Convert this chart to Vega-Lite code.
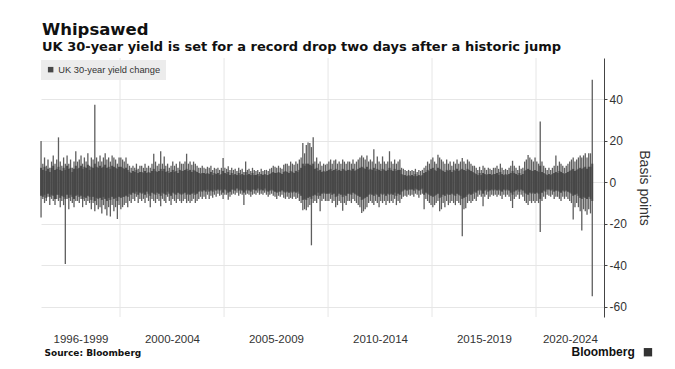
{
  "$schema": "https://vega.github.io/schema/vega-lite/v6.json",
  "width": 563,
  "height": 259,
  "autosize": {"type": "none"},
  "padding": {"left": 41, "top": 58, "right": 71, "bottom": 52},
  "background": "white",
  "title": {
    "text": "Whipsawed",
    "subtitle": "UK 30-year yield is set for a record drop two days after a historic jump",
    "anchor": "start",
    "frame": "group",
    "offset": 4,
    "dx": 1,
    "font": "DejaVu Sans",
    "fontSize": 16.5,
    "fontWeight": "bold",
    "color": "#111111",
    "subtitleFont": "DejaVu Sans",
    "subtitleFontSize": 13,
    "subtitleFontWeight": "bold",
    "subtitleColor": "#111111",
    "subtitlePadding": 2
  },
  "config": {"view": {"stroke": null}},
  "datasets": {
    "grid": [{"g": "2000-01-01"}, {"g": "2005-01-01"}, {"g": "2010-01-01"}, {"g": "2015-01-01"}, {"g": "2020-01-01"}],
    "d": [
      {"m":"1996-03-15","h":20,"l":-17,"a":7,"b":-6.5},{"m":"1996-04-15","h":9,"l":-8,"a":6,"b":-7},{"m":"1996-05-15","h":12,"l":-10,"a":7.5,"b":-6},{"m":"1996-06-15","h":8,"l":-9,"a":5.5,"b":-7.5},{"m":"1996-07-15","h":11,"l":-7,"a":6.5,"b":-5.5},{"m":"1996-08-15","h":7,"l":-11,"a":5,"b":-7},{"m":"1996-09-15","h":10,"l":-8,"a":7,"b":-6},{"m":"1996-10-15","h":13,"l":-9,"a":8,"b":-6.5},{"m":"1996-11-15","h":9,"l":-11,"a":6,"b":-8},{"m":"1996-12-15","h":11,"l":-8,"a":6.5,"b":-6},
      {"m":"1997-01-15","h":21.7,"l":-9,"a":7.5,"b":-6},{"m":"1997-02-15","h":10,"l":-12,"a":6,"b":-7.5},{"m":"1997-03-15","h":8,"l":-9,"a":5.5,"b":-6.5},{"m":"1997-04-15","h":12,"l":-11,"a":7,"b":-7},{"m":"1997-05-15","h":9,"l":-39.4,"a":6,"b":-8},{"m":"1997-06-15","h":13,"l":-8,"a":8,"b":-6},{"m":"1997-07-15","h":9,"l":-13,"a":6.5,"b":-7.5},{"m":"1997-08-15","h":11,"l":-9,"a":7,"b":-6},{"m":"1997-09-15","h":7,"l":-10,"a":5,"b":-7},{"m":"1997-10-15","h":10,"l":-12,"a":6.5,"b":-8},{"m":"1997-11-15","h":15,"l":-9,"a":8,"b":-6.5},{"m":"1997-12-15","h":10,"l":-9,"a":6.5,"b":-6},
      {"m":"1998-01-15","h":11,"l":-10,"a":7,"b":-7},{"m":"1998-02-15","h":13,"l":-8,"a":8,"b":-6.5},{"m":"1998-03-15","h":9,"l":-12,"a":6.5,"b":-8},{"m":"1998-04-15","h":12,"l":-9,"a":7.5,"b":-7},{"m":"1998-05-15","h":10,"l":-11,"a":7,"b":-7.5},{"m":"1998-06-15","h":14,"l":-9,"a":8.5,"b":-6.5},{"m":"1998-07-15","h":8,"l":-10,"a":6,"b":-7},{"m":"1998-08-15","h":12,"l":-13,"a":7.5,"b":-8.5},{"m":"1998-09-15","h":11,"l":-10,"a":7,"b":-7},{"m":"1998-10-15","h":37.4,"l":-14,"a":9,"b":-9},{"m":"1998-11-15","h":12,"l":-11,"a":7.5,"b":-7.5},{"m":"1998-12-15","h":10,"l":-13,"a":7,"b":-8},
      {"m":"1999-01-15","h":13,"l":-12,"a":8,"b":-7.5},{"m":"1999-02-15","h":10,"l":-15,"a":7,"b":-8.5},{"m":"1999-03-15","h":12,"l":-11,"a":7.5,"b":-7},{"m":"1999-04-15","h":14,"l":-13,"a":8.5,"b":-8},{"m":"1999-05-15","h":11,"l":-16,"a":7,"b":-9},{"m":"1999-06-15","h":12,"l":-12,"a":7.5,"b":-7.5},{"m":"1999-07-15","h":10,"l":-16.5,"a":6.5,"b":-8.5},{"m":"1999-08-15","h":13,"l":-11,"a":8,"b":-7},{"m":"1999-09-15","h":12,"l":-14,"a":7.5,"b":-8},{"m":"1999-10-15","h":11,"l":-12,"a":7,"b":-7.5},{"m":"1999-11-15","h":9,"l":-17.7,"a":6.5,"b":-9},{"m":"1999-12-15","h":12,"l":-11,"a":7.5,"b":-7},
      {"m":"2000-01-15","h":12,"l":-13,"a":7.5,"b":-7.5},{"m":"2000-02-15","h":11,"l":-12,"a":7,"b":-7},{"m":"2000-03-15","h":10,"l":-11,"a":6.5,"b":-7},{"m":"2000-04-15","h":12,"l":-10,"a":7,"b":-6.5},{"m":"2000-05-15","h":9,"l":-12,"a":6,"b":-7},{"m":"2000-06-15","h":8,"l":-9,"a":5,"b":-5.5},{"m":"2000-07-15","h":7,"l":-10,"a":4.5,"b":-6},{"m":"2000-08-15","h":8,"l":-8,"a":5.5,"b":-5},{"m":"2000-09-15","h":7,"l":-9,"a":5,"b":-5.5},{"m":"2000-10-15","h":9,"l":-7,"a":6,"b":-4.5},{"m":"2000-11-15","h":6.5,"l":-10,"a":4.5,"b":-6},{"m":"2000-12-15","h":8,"l":-8,"a":5,"b":-5},
      {"m":"2001-01-15","h":8,"l":-9,"a":5,"b":-5.5},{"m":"2001-02-15","h":7,"l":-8,"a":4.5,"b":-5},{"m":"2001-03-15","h":9,"l":-10,"a":5.5,"b":-6},{"m":"2001-04-15","h":7,"l":-7.5,"a":4.5,"b":-4.5},{"m":"2001-05-15","h":8,"l":-9,"a":5,"b":-5.5},{"m":"2001-06-15","h":7,"l":-12,"a":4.5,"b":-6.5},{"m":"2001-07-15","h":9,"l":-8,"a":5.5,"b":-5},{"m":"2001-08-15","h":13.8,"l":-9,"a":6.5,"b":-5.5},{"m":"2001-09-15","h":10,"l":-10,"a":5.5,"b":-6},{"m":"2001-10-15","h":8,"l":-8,"a":5,"b":-5},{"m":"2001-11-15","h":9,"l":-9,"a":5.5,"b":-5.5},{"m":"2001-12-15","h":15,"l":-11.5,"a":6.5,"b":-6.5},
      {"m":"2002-01-15","h":9,"l":-8,"a":5.5,"b":-5},{"m":"2002-02-15","h":12.5,"l":-9,"a":6.5,"b":-5.5},{"m":"2002-03-15","h":8,"l":-10,"a":5,"b":-6},{"m":"2002-04-15","h":9,"l":-7,"a":5.5,"b":-4.5},{"m":"2002-05-15","h":7,"l":-9,"a":4.5,"b":-5.5},{"m":"2002-06-15","h":8,"l":-11,"a":5,"b":-6.5},{"m":"2002-07-15","h":10,"l":-8,"a":6,"b":-5},{"m":"2002-08-15","h":8,"l":-9,"a":5,"b":-5.5},{"m":"2002-09-15","h":9,"l":-10,"a":5.5,"b":-6},{"m":"2002-10-15","h":7,"l":-8,"a":4.5,"b":-5},{"m":"2002-11-15","h":10,"l":-9,"a":6,"b":-5.5},{"m":"2002-12-15","h":9,"l":-10,"a":5.5,"b":-6},
      {"m":"2003-01-15","h":9,"l":-9,"a":5.5,"b":-5.5},{"m":"2003-02-15","h":10,"l":-8,"a":6,"b":-5},{"m":"2003-03-15","h":13.8,"l":-10,"a":6.5,"b":-6},{"m":"2003-04-15","h":9,"l":-9,"a":5.5,"b":-5.5},{"m":"2003-05-15","h":10,"l":-10,"a":6,"b":-6},{"m":"2003-06-15","h":8.5,"l":-9,"a":5,"b":-5.5},{"m":"2003-07-15","h":10,"l":-8,"a":6,"b":-5},{"m":"2003-08-15","h":9,"l":-10,"a":5.5,"b":-6},{"m":"2003-09-15","h":8,"l":-9,"a":5,"b":-5.5},{"m":"2003-10-15","h":7,"l":-8,"a":4.5,"b":-4.5},{"m":"2003-11-15","h":7,"l":-7,"a":4,"b":-4},{"m":"2003-12-15","h":8,"l":-8,"a":4.5,"b":-4.5},
      {"m":"2004-01-15","h":7,"l":-7,"a":4.5,"b":-4},{"m":"2004-02-15","h":6.5,"l":-8,"a":4,"b":-4.5},{"m":"2004-03-15","h":7.5,"l":-6,"a":4.5,"b":-3.5},{"m":"2004-04-15","h":7,"l":-8,"a":4,"b":-4.5},{"m":"2004-05-15","h":8,"l":-6.5,"a":5,"b":-4},{"m":"2004-06-15","h":6,"l":-7.5,"a":3.5,"b":-4.5},{"m":"2004-07-15","h":7,"l":-6,"a":4.5,"b":-3.5},{"m":"2004-08-15","h":6.5,"l":-7,"a":4,"b":-4},{"m":"2004-09-15","h":7,"l":-5.5,"a":4.5,"b":-3.5},{"m":"2004-10-15","h":6,"l":-6.5,"a":3.5,"b":-4},{"m":"2004-11-15","h":7,"l":-6,"a":4,"b":-3.5},{"m":"2004-12-15","h":11.7,"l":-8,"a":5.5,"b":-5},
      {"m":"2005-01-15","h":7,"l":-6,"a":4.5,"b":-3.5},{"m":"2005-02-15","h":6.5,"l":-6,"a":4,"b":-4},{"m":"2005-03-15","h":7.7,"l":-8.4,"a":5,"b":-5},{"m":"2005-04-15","h":6,"l":-7,"a":3.5,"b":-4.5},{"m":"2005-05-15","h":7,"l":-6,"a":4.5,"b":-3.5},{"m":"2005-06-15","h":6,"l":-5.5,"a":3.5,"b":-3.5},{"m":"2005-07-15","h":6.5,"l":-6,"a":4,"b":-4},{"m":"2005-08-15","h":5.5,"l":-5,"a":3.5,"b":-3},{"m":"2005-09-15","h":7,"l":-6.5,"a":4.5,"b":-4},{"m":"2005-10-15","h":6,"l":-5.5,"a":3.5,"b":-3.5},{"m":"2005-11-15","h":6.5,"l":-6,"a":4,"b":-4},{"m":"2005-12-15","h":5,"l":-11,"a":3.5,"b":-5},
      {"m":"2006-01-15","h":10,"l":-6,"a":5,"b":-4},{"m":"2006-02-15","h":6,"l":-5.5,"a":3.5,"b":-3.5},{"m":"2006-03-15","h":6.5,"l":-6,"a":4,"b":-4},{"m":"2006-04-15","h":5.5,"l":-7,"a":3.5,"b":-4.5},{"m":"2006-05-15","h":7,"l":-6,"a":4.5,"b":-3.5},{"m":"2006-06-15","h":6,"l":-5.5,"a":3.5,"b":-3.5},{"m":"2006-07-15","h":5.5,"l":-6,"a":3.5,"b":-4},{"m":"2006-08-15","h":6,"l":-5,"a":4,"b":-3},{"m":"2006-09-15","h":5,"l":-6,"a":3,"b":-4},{"m":"2006-10-15","h":6.5,"l":-5.5,"a":4,"b":-3.5},{"m":"2006-11-15","h":5.5,"l":-6,"a":3.5,"b":-4},{"m":"2006-12-15","h":6,"l":-5,"a":4,"b":-3},
      {"m":"2007-01-15","h":6,"l":-6,"a":3.5,"b":-4},{"m":"2007-02-15","h":5.5,"l":-7,"a":3.5,"b":-4.5},{"m":"2007-03-15","h":6.5,"l":-6,"a":4,"b":-4},{"m":"2007-04-15","h":7,"l":-5.5,"a":4.5,"b":-3.5},{"m":"2007-05-15","h":8,"l":-6.5,"a":5,"b":-4},{"m":"2007-06-15","h":7.5,"l":-7,"a":4.5,"b":-4.5},{"m":"2007-07-15","h":7,"l":-8,"a":4.5,"b":-5},{"m":"2007-08-15","h":8,"l":-6.5,"a":5,"b":-4.5},{"m":"2007-09-15","h":7,"l":-7,"a":4.5,"b":-4.5},{"m":"2007-10-15","h":6.5,"l":-6,"a":4,"b":-4},{"m":"2007-11-15","h":8.5,"l":-7.5,"a":5,"b":-4.5},{"m":"2007-12-15","h":9,"l":-8,"a":5.5,"b":-5},
      {"m":"2008-01-15","h":9,"l":-7,"a":5,"b":-4.5},{"m":"2008-02-15","h":8,"l":-8,"a":4.5,"b":-5},{"m":"2008-03-15","h":10,"l":-7.5,"a":5.5,"b":-4.5},{"m":"2008-04-15","h":9,"l":-8,"a":5,"b":-5},{"m":"2008-05-15","h":8.5,"l":-7,"a":4.5,"b":-4.5},{"m":"2008-06-15","h":10,"l":-8,"a":5.5,"b":-5},{"m":"2008-07-15","h":9,"l":-7.5,"a":5,"b":-4.5},{"m":"2008-08-15","h":11,"l":-9,"a":6,"b":-5.5},{"m":"2008-09-15","h":12,"l":-10,"a":7,"b":-6.5},{"m":"2008-10-15","h":19,"l":-13.5,"a":9,"b":-8.5},{"m":"2008-11-15","h":14,"l":-13,"a":8,"b":-8},{"m":"2008-12-15","h":18,"l":-13.5,"a":9,"b":-8.5},
      {"m":"2009-01-15","h":19.2,"l":-12,"a":9,"b":-7.5},{"m":"2009-02-15","h":19,"l":-11,"a":8.5,"b":-7},{"m":"2009-03-15","h":17,"l":-30.4,"a":8,"b":-8},{"m":"2009-04-15","h":21.7,"l":-10,"a":9,"b":-6.5},{"m":"2009-05-15","h":10,"l":-9,"a":6.5,"b":-6},{"m":"2009-06-15","h":12,"l":-10,"a":7,"b":-6.5},{"m":"2009-07-15","h":9,"l":-8,"a":5.5,"b":-5},{"m":"2009-08-15","h":10,"l":-14,"a":6,"b":-6.5},{"m":"2009-09-15","h":8,"l":-9,"a":5,"b":-5.5},{"m":"2009-10-15","h":9,"l":-8,"a":5.5,"b":-5},{"m":"2009-11-15","h":8.5,"l":-9,"a":5,"b":-5.5},{"m":"2009-12-15","h":9,"l":-9,"a":5.5,"b":-5.5},
      {"m":"2010-01-15","h":10,"l":-9,"a":6,"b":-5.5},{"m":"2010-02-15","h":11,"l":-8,"a":6.5,"b":-5},{"m":"2010-03-15","h":9,"l":-10,"a":5.5,"b":-6},{"m":"2010-04-15","h":10.5,"l":-9,"a":6,"b":-5.5},{"m":"2010-05-15","h":11,"l":-12,"a":6.5,"b":-7},{"m":"2010-06-15","h":9,"l":-11,"a":5.5,"b":-6.5},{"m":"2010-07-15","h":10,"l":-9,"a":6,"b":-5.5},{"m":"2010-08-15","h":9,"l":-10,"a":5.5,"b":-6},{"m":"2010-09-15","h":11,"l":-13.7,"a":6.5,"b":-7},{"m":"2010-10-15","h":10,"l":-10,"a":6,"b":-6},{"m":"2010-11-15","h":9,"l":-11,"a":5.5,"b":-6.5},{"m":"2010-12-15","h":10,"l":-9,"a":6,"b":-5.5},
      {"m":"2011-01-15","h":10,"l":-9,"a":6,"b":-5.5},{"m":"2011-02-15","h":9,"l":-10,"a":5.5,"b":-6},{"m":"2011-03-15","h":11,"l":-8,"a":6.5,"b":-5},{"m":"2011-04-15","h":9,"l":-9,"a":5.5,"b":-5.5},{"m":"2011-05-15","h":10,"l":-10,"a":6,"b":-6},{"m":"2011-06-15","h":11,"l":-11,"a":6.5,"b":-6.5},{"m":"2011-07-15","h":12,"l":-12,"a":7,"b":-7},{"m":"2011-08-15","h":13,"l":-14.8,"a":7.5,"b":-8.5},{"m":"2011-09-15","h":12,"l":-14,"a":7,"b":-8},{"m":"2011-10-15","h":11,"l":-13,"a":6.5,"b":-7.5},{"m":"2011-11-15","h":13,"l":-12,"a":7.5,"b":-7},{"m":"2011-12-15","h":10,"l":-10,"a":6,"b":-6},
      {"m":"2012-01-15","h":11,"l":-9,"a":6.5,"b":-5.5},{"m":"2012-02-15","h":10,"l":-10,"a":6,"b":-6},{"m":"2012-03-15","h":16,"l":-11,"a":7,"b":-6.5},{"m":"2012-04-15","h":9,"l":-9,"a":5.5,"b":-5.5},{"m":"2012-05-15","h":12.5,"l":-10,"a":6.5,"b":-6},{"m":"2012-06-15","h":10,"l":-12,"a":6,"b":-7},{"m":"2012-07-15","h":9,"l":-9,"a":5.5,"b":-5.5},{"m":"2012-08-15","h":12.5,"l":-10,"a":6.5,"b":-6},{"m":"2012-09-15","h":10,"l":-9,"a":6,"b":-5.5},{"m":"2012-10-15","h":9,"l":-11,"a":5.5,"b":-6.5},{"m":"2012-11-15","h":10,"l":-9,"a":6,"b":-5.5},{"m":"2012-12-15","h":15,"l":-10,"a":7,"b":-6},
      {"m":"2013-01-15","h":10,"l":-9,"a":6,"b":-5.5},{"m":"2013-02-15","h":9,"l":-10,"a":5.5,"b":-6},{"m":"2013-03-15","h":11,"l":-8,"a":6.5,"b":-5},{"m":"2013-04-15","h":9,"l":-11,"a":5.5,"b":-6.5},{"m":"2013-05-15","h":10,"l":-9,"a":6,"b":-5.5},{"m":"2013-06-15","h":11,"l":-10,"a":6,"b":-6},{"m":"2013-07-15","h":7,"l":-8,"a":4,"b":-4.5},{"m":"2013-08-15","h":6.5,"l":-7,"a":3.5,"b":-4},{"m":"2013-09-15","h":6,"l":-6.5,"a":3.5,"b":-3.5},{"m":"2013-10-15","h":5.5,"l":-7,"a":3,"b":-4},{"m":"2013-11-15","h":6,"l":-6,"a":3.5,"b":-3.5},{"m":"2013-12-15","h":5.5,"l":-6.5,"a":3,"b":-3.5},
      {"m":"2014-01-15","h":6,"l":-6,"a":3.5,"b":-3.5},{"m":"2014-02-15","h":5.5,"l":-7,"a":3,"b":-4},{"m":"2014-03-15","h":6.5,"l":-5.5,"a":4,"b":-3},{"m":"2014-04-15","h":5,"l":-6,"a":3,"b":-3.5},{"m":"2014-05-15","h":6,"l":-7.5,"a":3.5,"b":-4},{"m":"2014-06-15","h":5.5,"l":-6,"a":3,"b":-3.5},{"m":"2014-07-15","h":6,"l":-5.5,"a":3.5,"b":-3},{"m":"2014-08-15","h":7,"l":-13,"a":4.5,"b":-6},{"m":"2014-09-15","h":8,"l":-8,"a":5,"b":-5},{"m":"2014-10-15","h":10,"l":-9,"a":6,"b":-5.5},{"m":"2014-11-15","h":9,"l":-10,"a":5.5,"b":-6},{"m":"2014-12-15","h":11,"l":-11,"a":6.5,"b":-6.5},
      {"m":"2015-01-15","h":12,"l":-12,"a":7,"b":-7},{"m":"2015-02-15","h":10,"l":-11,"a":6,"b":-6.5},{"m":"2015-03-15","h":9,"l":-10,"a":5.5,"b":-6},{"m":"2015-04-15","h":13.3,"l":-9,"a":7,"b":-5.5},{"m":"2015-05-15","h":12,"l":-14,"a":6.5,"b":-7.5},{"m":"2015-06-15","h":11,"l":-13,"a":6,"b":-7},{"m":"2015-07-15","h":10,"l":-10,"a":5.5,"b":-6},{"m":"2015-08-15","h":9,"l":-12,"a":5,"b":-6.5},{"m":"2015-09-15","h":11,"l":-9,"a":6,"b":-5.5},{"m":"2015-10-15","h":9,"l":-11,"a":5.5,"b":-6},{"m":"2015-11-15","h":10,"l":-10,"a":6,"b":-6},{"m":"2015-12-15","h":8,"l":-9,"a":5,"b":-5.5},
      {"m":"2016-01-15","h":10,"l":-10,"a":6,"b":-6},{"m":"2016-02-15","h":9,"l":-11,"a":5.5,"b":-6.5},{"m":"2016-03-15","h":11,"l":-9,"a":6.5,"b":-5.5},{"m":"2016-04-15","h":9,"l":-10,"a":5.5,"b":-6},{"m":"2016-05-15","h":10,"l":-11,"a":6,"b":-6.5},{"m":"2016-06-15","h":11.7,"l":-26,"a":6.5,"b":-8},{"m":"2016-07-15","h":10,"l":-13,"a":6,"b":-7.5},{"m":"2016-08-15","h":9,"l":-12.5,"a":5.5,"b":-7},{"m":"2016-09-15","h":11,"l":-10,"a":6.5,"b":-6},{"m":"2016-10-15","h":10,"l":-9,"a":6,"b":-5.5},{"m":"2016-11-15","h":9,"l":-10,"a":5.5,"b":-6},{"m":"2016-12-15","h":8,"l":-9,"a":5,"b":-5.5},
      {"m":"2017-01-15","h":8,"l":-8,"a":4.5,"b":-4.5},{"m":"2017-02-15","h":7,"l":-9,"a":4,"b":-5},{"m":"2017-03-15","h":6,"l":-7,"a":3.5,"b":-4},{"m":"2017-04-15","h":7.5,"l":-6,"a":4.5,"b":-3.5},{"m":"2017-05-15","h":6,"l":-7,"a":3.5,"b":-4},{"m":"2017-06-15","h":8,"l":-11.5,"a":4.5,"b":-5.5},{"m":"2017-07-15","h":7,"l":-7,"a":4,"b":-4},{"m":"2017-08-15","h":6,"l":-6,"a":3.5,"b":-3.5},{"m":"2017-09-15","h":7,"l":-8,"a":4,"b":-4.5},{"m":"2017-10-15","h":6.5,"l":-7,"a":4,"b":-4},{"m":"2017-11-15","h":6,"l":-6,"a":3.5,"b":-3.5},{"m":"2017-12-15","h":7,"l":-6.5,"a":4,"b":-4},
      {"m":"2018-01-15","h":7,"l":-6,"a":4,"b":-3.5},{"m":"2018-02-15","h":8,"l":-7,"a":4.5,"b":-4},{"m":"2018-03-15","h":6.5,"l":-6,"a":3.5,"b":-3.5},{"m":"2018-04-15","h":9,"l":-6.5,"a":5,"b":-4},{"m":"2018-05-15","h":7,"l":-8,"a":4,"b":-4.5},{"m":"2018-06-15","h":6,"l":-6,"a":3.5,"b":-3.5},{"m":"2018-07-15","h":6.5,"l":-7,"a":4,"b":-4},{"m":"2018-08-15","h":6,"l":-6,"a":3.5,"b":-3.5},{"m":"2018-09-15","h":7,"l":-7,"a":4,"b":-4},{"m":"2018-10-15","h":8,"l":-9,"a":4.5,"b":-5},{"m":"2018-11-15","h":10.4,"l":-12.4,"a":5.5,"b":-6},{"m":"2018-12-15","h":8,"l":-8,"a":4.5,"b":-4.5},
      {"m":"2019-01-15","h":7,"l":-7,"a":4,"b":-4},{"m":"2019-02-15","h":6,"l":-6,"a":3.5,"b":-3.5},{"m":"2019-03-15","h":8,"l":-8,"a":4.5,"b":-4.5},{"m":"2019-04-15","h":6.5,"l":-6,"a":3.5,"b":-3.5},{"m":"2019-05-15","h":7,"l":-7,"a":4,"b":-4},{"m":"2019-06-15","h":10,"l":-9,"a":5.5,"b":-5},{"m":"2019-07-15","h":11,"l":-10,"a":6,"b":-5.5},{"m":"2019-08-15","h":13.2,"l":-11,"a":6.5,"b":-6},{"m":"2019-09-15","h":12,"l":-9,"a":6,"b":-5},{"m":"2019-10-15","h":11,"l":-10,"a":5.5,"b":-5.5},{"m":"2019-11-15","h":10,"l":-9,"a":5.5,"b":-5},{"m":"2019-12-15","h":12,"l":-10,"a":6,"b":-5.5},
      {"m":"2020-01-15","h":10,"l":-9,"a":5.5,"b":-5},{"m":"2020-02-15","h":9,"l":-10,"a":5,"b":-5.5},{"m":"2020-03-15","h":29.4,"l":-24,"a":8,"b":-8},{"m":"2020-04-15","h":10,"l":-9,"a":5,"b":-5},{"m":"2020-05-15","h":8,"l":-7,"a":4.5,"b":-4},{"m":"2020-06-15","h":7,"l":-8,"a":4,"b":-4.5},{"m":"2020-07-15","h":6,"l":-6,"a":3.5,"b":-3.5},{"m":"2020-08-15","h":7,"l":-6.5,"a":4,"b":-3.5},{"m":"2020-09-15","h":6,"l":-7,"a":3.5,"b":-4},{"m":"2020-10-15","h":7,"l":-6,"a":4,"b":-3.5},{"m":"2020-11-15","h":8,"l":-8,"a":4.5,"b":-4.5},{"m":"2020-12-15","h":13,"l":-7,"a":5,"b":-4},
      {"m":"2021-01-15","h":8,"l":-7,"a":4.5,"b":-4},{"m":"2021-02-15","h":10,"l":-8,"a":5.5,"b":-4.5},{"m":"2021-03-15","h":9,"l":-9,"a":5,"b":-5},{"m":"2021-04-15","h":8,"l":-7,"a":4.5,"b":-4},{"m":"2021-05-15","h":7,"l":-8,"a":4,"b":-4.5},{"m":"2021-06-15","h":8,"l":-7,"a":4.5,"b":-4},{"m":"2021-07-15","h":9,"l":-8,"a":5,"b":-4.5},{"m":"2021-08-15","h":10,"l":-9,"a":5.5,"b":-5},{"m":"2021-09-15","h":11,"l":-10,"a":6,"b":-5.5},{"m":"2021-10-15","h":12,"l":-18,"a":6.5,"b":-6.5},{"m":"2021-11-15","h":10,"l":-12,"a":5.5,"b":-6},{"m":"2021-12-15","h":11,"l":-10,"a":6,"b":-5.5},
      {"m":"2022-01-15","h":12,"l":-12,"a":6.5,"b":-6.5},{"m":"2022-02-15","h":13,"l":-14,"a":7,"b":-7.5},{"m":"2022-03-15","h":12,"l":-23.3,"a":6.5,"b":-8},{"m":"2022-04-15","h":13,"l":-13,"a":7,"b":-7},{"m":"2022-05-15","h":14,"l":-14,"a":7.5,"b":-7.5},{"m":"2022-06-15","h":12,"l":-15.6,"a":6.5,"b":-8},{"m":"2022-07-15","h":14,"l":-13,"a":7.5,"b":-7},{"m":"2022-08-15","h":14,"l":-15,"a":7.5,"b":-8},{"m":"2022-09-15","h":49.5,"l":-55,"a":9,"b":-9}
    ]
  },
  "layer": [
    {
      "data": {"name": "grid"},
      "mark": {"type": "rule", "color": "#e6e6e6", "strokeWidth": 1},
      "encoding": {
        "x": {
          "field": "g",
          "type": "temporal",
          "scale": {"domain": ["1996-03-14", "2023-04-09"], "padding": 0},
          "axis": {
            "values": [
              {"year": 1998, "month": 2, "date": 6},
              {"year": 2002, "month": 7, "date": 1},
              {"year": 2007, "month": 7, "date": 1},
              {"year": 2012, "month": 7, "date": 1},
              {"year": 2017, "month": 7, "date": 1},
              {"year": 2021, "month": 8, "date": 18}
            ],
            "labelExpr": "year(datum.value) < 2000 ? '1996-1999' : year(datum.value) < 2005 ? '2000-2004' : year(datum.value) < 2010 ? '2005-2009' : year(datum.value) < 2015 ? '2010-2014' : year(datum.value) < 2020 ? '2015-2019' : '2020-2024'",
            "grid": false,
            "ticks": false,
            "domain": false,
            "labelPadding": 16,
            "labelFont": "Liberation Sans",
            "labelFontSize": 11.5,
            "labelColor": "#333333",
            "labelFlush": false,
            "labelOverlap": false,
            "title": "Source: Bloomberg",
            "titleAnchor": "start",
            "titleAlign": "left",
            "titleX": 3,
            "titleY": 38,
            "titleBaseline": "alphabetic",
            "titleFont": "DejaVu Sans",
            "titleFontSize": 9,
            "titleFontWeight": "bold",
            "titleColor": "#111111"
          }
        }
      }
    },
    {
      "data": {"name": "d"},
      "mark": {"type": "rule", "color": "#5e5e5e", "strokeWidth": 1.3},
      "encoding": {
        "x": {"field": "m", "type": "temporal"},
        "y": {
          "field": "h",
          "type": "quantitative",
          "scale": {"domain": [-65, 60], "nice": false},
          "axis": {
            "orient": "right",
            "values": [-60, -50, -40, -30, -20, -10, 0, 10, 20, 30, 40, 50],
            "labelExpr": "datum.value % 20 === 0 ? '' + datum.value : ''",
            "grid": true,
            "gridColor": "#e6e6e6",
            "gridOpacity": {"condition": {"test": "datum.value % 20 === 0", "value": 1}, "value": 0},
            "domain": true,
            "domainColor": "#444444",
            "tickColor": "#444444",
            "tickSize": 3,
            "labelPadding": 2,
            "labelFont": "Liberation Sans",
            "labelFontSize": 12,
            "labelColor": "#333333",
            "title": "Basis points",
            "titleFont": "Liberation Sans",
            "titleFontSize": 14,
            "titleFontWeight": "normal",
            "titleColor": "#333333",
            "titlePadding": 10,
            "titleAngle": 90
          }
        },
        "y2": {"field": "l"}
      }
    },
    {
      "data": {"name": "d"},
      "mark": {"type": "bar", "width": 1.9},
      "encoding": {
        "x": {"field": "m", "type": "temporal"},
        "y": {"field": "a", "type": "quantitative", "title": "Basis points"},
        "y2": {"field": "b"},
        "color": {
          "datum": "UK 30-year yield change",
          "type": "nominal",
          "scale": {"range": ["#474747"]},
          "legend": {
            "orient": "none",
            "legendX": 0,
            "legendY": 2,
            "title": null,
            "fillColor": "#ececec",
            "padding": 5,
            "symbolType": "square",
            "symbolSize": 30,
            "symbolStrokeWidth": 0,
            "labelFont": "Liberation Sans",
            "labelFontSize": 9.3,
            "labelColor": "#333333",
            "labelOffset": 3
          }
        }
      }
    },
    {
      "data": {"values": [{"label": "Bloomberg"}]},
      "mark": {"type": "text", "align": "right", "baseline": "middle", "font": "Liberation Sans", "fontSize": 12, "fontWeight": "bold", "color": "#111111"},
      "encoding": {
        "text": {"field": "label"},
        "x": {"datum": {"year": 2024, "month": 10, "date": 1}, "type": "temporal"},
        "y": {"datum": -82, "type": "quantitative"}
      }
    },
    {
      "data": {"values": [{"label": "logo"}]},
      "mark": {"type": "point", "shape": "square", "filled": true, "size": 70, "color": "#333333", "opacity": 1},
      "encoding": {
        "x": {"datum": {"year": 2025, "month": 5, "date": 20}, "type": "temporal"},
        "y": {"datum": -82, "type": "quantitative"}
      }
    }
  ]
}
